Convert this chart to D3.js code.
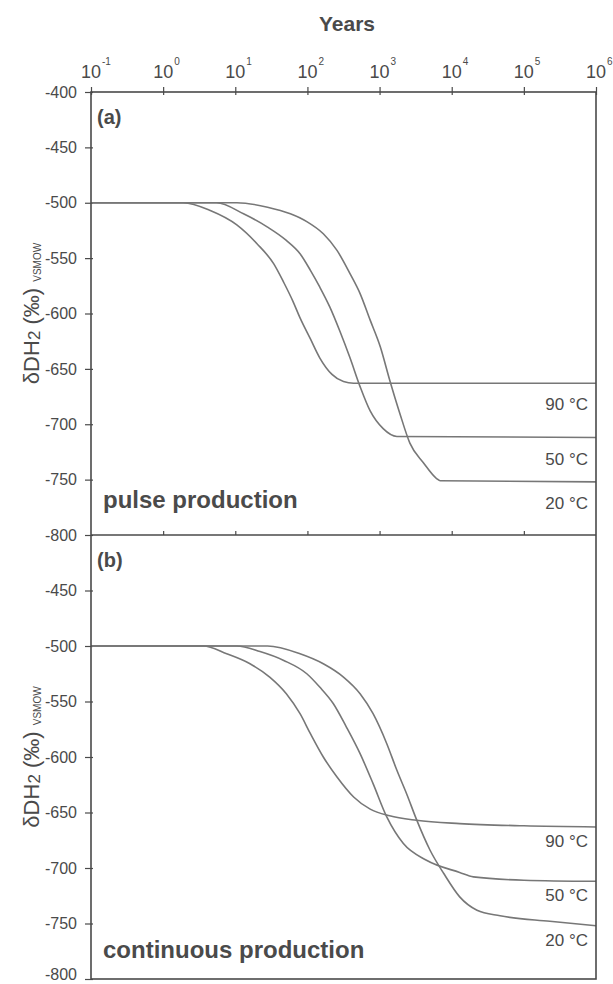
<!DOCTYPE html>
<html>
<head>
<meta charset="utf-8">
<script src="https://cdn.jsdelivr.net/npm/d3@7"></script>
<style>
  body { margin: 0; background: #fff; }
  text { font-family: "Liberation Sans", Arial, sans-serif; fill: #4a4a4a; }
</style>
</head>
<body>
<div class="main-chart"></div>
<script>
// x axis: decades of years
const yearTicks = [1e-1, 1e0, 1e1, 1e2, 1e3, 1e4, 1e5, 1e6];
const yearExps = ["-1", "0", "1", "2", "3", "4", "5", "6"];
const dTicksA = [-400, -450, -500, -550, -600, -650, -700, -750, -800];
const dTicksB = [-450, -500, -550, -600, -650, -700, -750, -800];
const tempLabels = ["90 °C", "50 °C", "20 °C"];

// (a) pulse production
const pulseYears90 = [0.1, 1.9, 4.5, 10.5, 20, 34, 47, 63, 79, 110, 148, 219, 316, 437, 1e6];
const pulseD90 = [-500, -500, -507, -520, -537, -555, -572, -589, -604, -623, -640, -655, -661.5, -663, -663];
const pulseYears50 = [0.1, 5.5, 13, 28, 51, 79, 110, 148, 204, 282, 389, 537, 741, 1122, 1738, 1e6];
const pulseD50 = [-500, -500, -510, -522, -534, -546, -561, -576, -594, -616, -640, -666, -688, -704, -711, -712];
const pulseYears20 = [0.1, 10.5, 28, 58, 98, 166, 257, 389, 537, 741, 1023, 1380, 1905, 2630, 4074, 6166, 6918, 1e6];
const pulseD20 = [-500, -500, -504, -510, -517, -528, -543, -564, -582, -606, -630, -660, -690, -717, -735, -749, -751, -752];

// (b) continuous production
const contYears90 = [0.1, 3.6, 7.6, 16, 30, 51, 79, 110, 166, 257, 437, 741, 1380, 3236, 12900, 1e5, 1e6];
const contD90 = [-500, -500, -507, -516, -528, -543, -561, -579, -600, -618, -636, -647, -653, -657, -660, -662, -663];
const contYears50 = [0.1, 10.5, 22, 47, 98, 148, 229, 347, 537, 813, 1259, 2138, 4467, 12900, 20000, 1e5, 1e6];
const contD50 = [-500, -500, -505, -513, -525, -537, -552, -573, -597, -624, -654, -678, -693, -704, -708, -711, -712];
const contYears20 = [0.1, 28, 79, 166, 316, 537, 813, 1259, 1738, 2399, 3236, 5012, 7762, 12900, 22400, 46800, 229000, 1e6];
const contD20 = [-500, -500, -507, -516, -528, -543, -561, -588, -612, -634, -656, -684, -705, -726, -738, -743, -748, -752];

const W = 613, H = 984;
const pLeft = 91, pRight = 596, pTop = 92, pMid = 535, pBottom = 979;
const ink = "#4a4a4a";

const svg = d3.select(".main-chart").append("svg")
    .attr("width", W)
    .attr("height", H);

const x = d3.scaleLog().domain([1e-1, 1e6]).range([pLeft, pRight]);
const yA = d3.scaleLinear().domain([-400, -800]).range([pTop, pMid]);
const yB = d3.scaleLinear().domain([-400, -800]).range([pMid, pBottom]);

// title
svg.append("text")
    .attr("x", 347).attr("y", 31)
    .attr("text-anchor", "middle")
    .attr("font-size", 21).attr("font-weight", "bold")
    .text("Years");

// top axis with 10^n labels
const topAxis = svg.append("g")
    .attr("transform", `translate(0, ${pTop})`)
    .call(d3.axisTop(x).tickValues(yearTicks).tickFormat("").tickSize(5));
topAxis.selectAll(".tick line").attr("y1", 3);
yearTicks.forEach((t, i) => {
    const lab = svg.append("g").attr("transform", `translate(${x(t)}, 78)`);
    lab.append("text").attr("text-anchor", "middle").attr("font-size", 18).text("10");
    lab.append("text").attr("x", 11).attr("y", -13).attr("font-size", 10).text(yearExps[i]);
});

// ticks on the shared middle line, pointing into panel (a)
svg.append("g")
    .attr("transform", `translate(0, ${pMid})`)
    .call(d3.axisTop(x).tickValues(yearTicks.slice(1, -1)).tickFormat("").tickSize(4));

function drawPanel(y, ticks, series, tag, title, labelGap, titleY) {
    const ax = svg.append("g")
        .attr("transform", `translate(${pLeft}, 0)`)
        .call(d3.axisLeft(y).tickValues(ticks).tickSize(6).tickPadding(8).tickFormat(d => String(d)));
    ax.selectAll(".tick line").attr("x1", 2);
    ax.selectAll(".tick text").attr("font-size", 16).attr("fill", ink)
        .style("font-family", "'Liberation Sans', Arial, sans-serif");

    const line = d3.line()
        .x(d => x(d[0]))
        .y(d => y(d[1]))
        .curve(d3.curveMonotoneX);

    series.forEach((s, i) => {
        svg.append("path")
            .datum(d3.zip(s[0], s[1]))
            .attr("fill", "none")
            .attr("stroke", "#777")
            .attr("stroke-width", 1.6)
            .attr("d", line);
        const last = s[1][s[1].length - 1];
        svg.append("text")
            .attr("x", pRight - 8)
            .attr("y", y(last) + labelGap)
            .attr("text-anchor", "end")
            .attr("font-size", 17)
            .text(tempLabels[i]);
    });

    svg.append("text")
        .attr("x", pLeft + 6).attr("y", y(-400) + 32)
        .attr("font-size", 20).attr("font-weight", "bold")
        .text(tag);
    svg.append("text")
        .attr("x", pLeft + 12).attr("y", titleY)
        .attr("font-size", 24).attr("font-weight", "bold")
        .text(title);

    // y axis title
    const cy = (y(-400) + y(-800)) / 2;
    const t = svg.append("text")
        .attr("transform", `translate(39, ${cy}) rotate(-90)`)
        .attr("text-anchor", "middle")
        .attr("font-size", 22);
    t.append("tspan").text("δDH");
    t.append("tspan").attr("font-size", 17).attr("dy", 1).text("2");
    t.append("tspan").attr("dy", -1).text(" (‰) ");
    t.append("tspan").attr("font-size", 10).attr("dy", 2).text("VSMOW");
}

drawPanel(yA, dTicksA,
    [[pulseYears90, pulseD90], [pulseYears50, pulseD50], [pulseYears20, pulseD20]],
    "(a)", "pulse production", 27, 508);
drawPanel(yB, dTicksB,
    [[contYears90, contD90], [contYears50, contD50], [contYears20, contD20]],
    "(b)", "continuous production", 20, 958);

// keep the last tick label inside the page
svg.selectAll(".tick text").filter(function () {
    return this.getBoundingClientRect().bottom > H;
}).attr("dy", "0.05em");

// frame
svg.append("rect")
    .attr("x", pLeft).attr("y", pTop)
    .attr("width", pRight - pLeft).attr("height", pBottom - pTop)
    .attr("fill", "none").attr("stroke", ink).attr("stroke-width", 1.6);
svg.append("line")
    .attr("x1", pLeft).attr("x2", pRight).attr("y1", pMid).attr("y2", pMid)
    .attr("stroke", ink).attr("stroke-width", 1.6);
svg.selectAll(".domain").remove();
svg.selectAll(".tick line").attr("stroke", ink).attr("stroke-width", 1.2);
</script>
</body>
</html>
